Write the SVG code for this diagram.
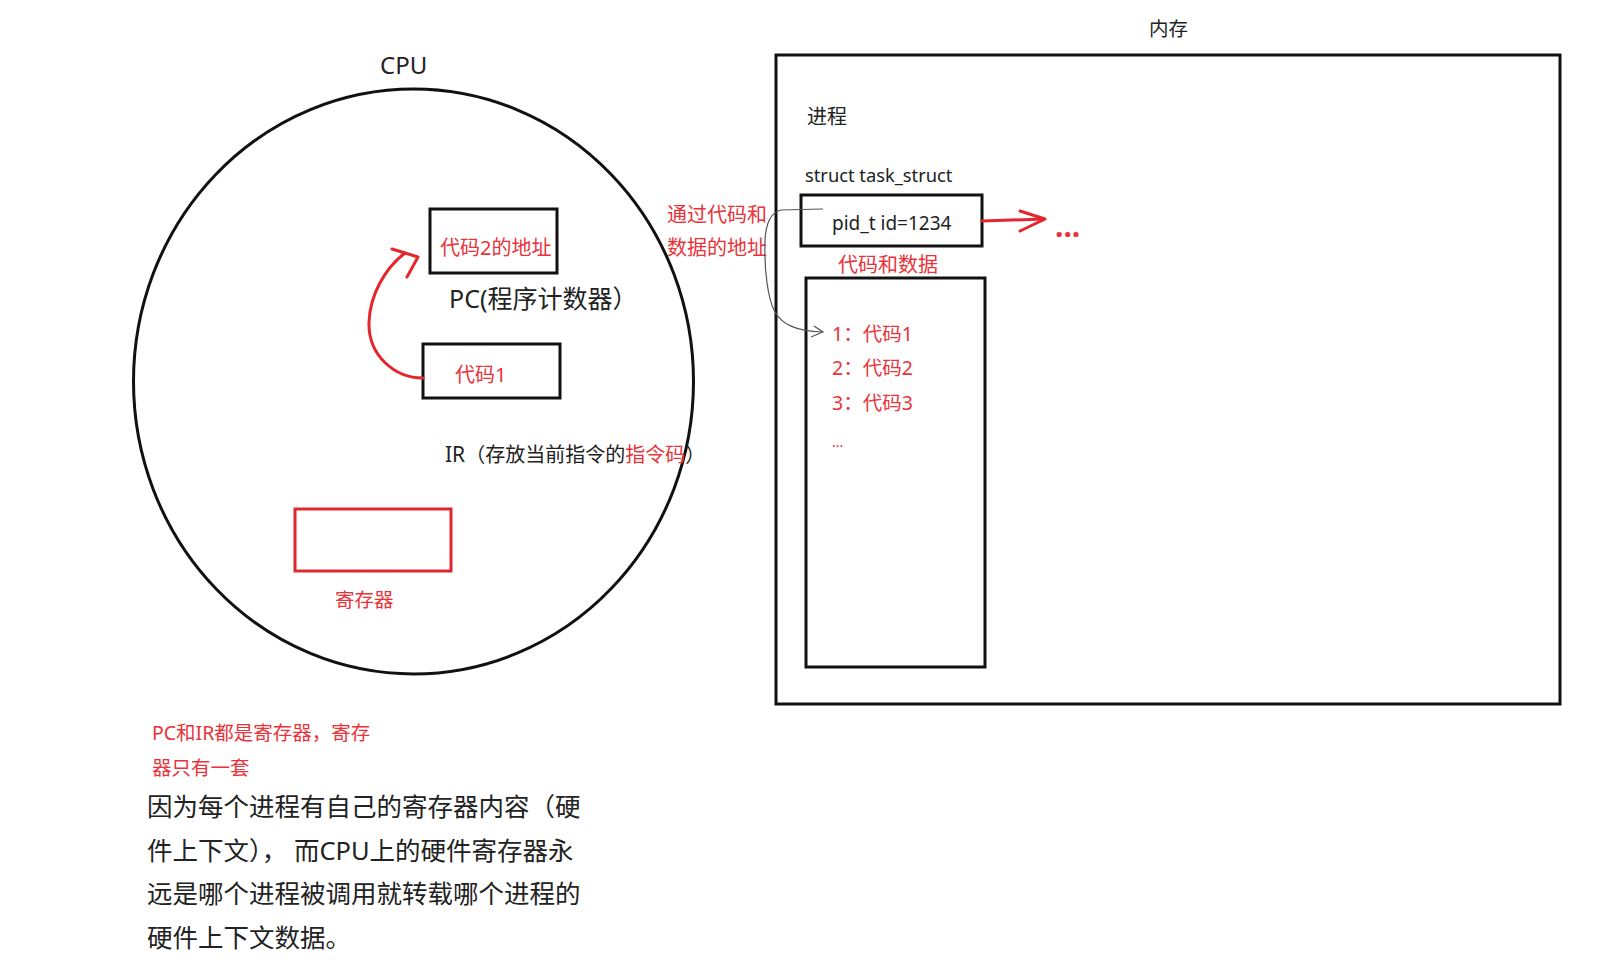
<svg xmlns="http://www.w3.org/2000/svg" width="1621" height="967" viewBox="0 0 1621 967">
<style>
text{font-family:"Noto Sans","Noto Sans CJK SC",sans-serif;fill:#222}
.r{fill:#e8333a}
.box{fill:none;stroke:#111;stroke-width:3}
.rl{fill:none;stroke:#e6262e;stroke-width:3;stroke-linecap:round;stroke-linejoin:round}
.gl{fill:none;stroke:#555;stroke-width:1.2}
</style>
<rect width="1621" height="967" fill="#fff"/>
<g id="cpu">
<ellipse cx="413.5" cy="381.5" rx="280" ry="292.5" class="box"/>
<text x="380" y="74" font-size="24">CPU</text>
</g>
<g id="pc">
<rect x="430" y="209" width="127" height="64" class="box"/>
<text x="440" y="255" font-size="20" class="r">代码2的地址</text>
<text x="449" y="308" font-size="25">PC(程序计数器）</text>
</g>
<g id="ir">
<rect x="423" y="344" width="137" height="54" class="box"/>
<text x="455" y="382" font-size="20" class="r">代码1</text>
<text x="445" y="462" font-size="21">IR<tspan font-size="20">（存放当前指令的</tspan><tspan font-size="20" class="r">指令码</tspan><tspan font-size="20">）</tspan></text>
</g>
<g id="register">
<rect x="295" y="509" width="156" height="62" fill="none" stroke="#e0282f" stroke-width="3"/>
<text x="335" y="607" font-size="19.5" class="r">寄存器</text>
</g>
<g id="note">
<text x="152" y="740" font-size="19.5" class="r">PC和IR都是寄存器，寄存</text>
<text x="152" y="775" font-size="19.5" class="r">器只有一套</text>
<text x="147" y="816" font-size="25.5">因为每个进程有自己的寄存器内容（硬</text>
<text x="147" y="860" font-size="25.5">件上下文）， 而CPU上的硬件寄存器永</text>
<text x="147" y="903" font-size="25.5">远是哪个进程被调用就转载哪个进程的</text>
<text x="147" y="947" font-size="25.5">硬件上下文数据。</text>
</g>
<g id="memory">
<rect x="776" y="55" width="784" height="649" class="box"/>
<text x="1149" y="36" font-size="19.5">内存</text>
<text x="807" y="124" font-size="20">进程</text>
<text x="805" y="182" font-size="18.3">struct task_struct</text>
</g>
<g id="task_struct">
<rect x="801" y="195" width="181" height="51" class="box"/>
<text x="832" y="230" font-size="19">pid_t id=1234</text>
</g>
<g id="code_data">
<text x="838" y="272" font-size="20" class="r">代码和数据</text>
<rect x="806" y="278" width="179" height="389" class="box"/>
<text x="832" y="341" font-size="19.5" class="r">1：代码1</text>
<text x="832" y="375" font-size="19.5" class="r">2：代码2</text>
<text x="832" y="410" font-size="19.5" class="r">3：代码3</text>
<text x="832" y="447" font-size="14" class="r">...</text>
</g>
<g id="addr_label">
<text x="667" y="222" font-size="20" class="r">通过代码和</text>
<text x="667" y="255" font-size="20" class="r">数据的地址</text>
</g>
<g id="more">
<text x="1055" y="237" font-size="30" font-weight="bold" class="r">...</text>
</g>
<g id="connectors">
<path class="rl" d="M423,378 C395,378 368,356 369,322 C370,295 385,268 405,253"/>
<path class="rl" d="M392,249 L418,257 L407,277"/>
<path class="rl" d="M982,221 L1044,219"/>
<path class="rl" d="M1020,211 L1045,219 L1020,231"/>
<path class="gl" d="M823,209 L781,210 C772,212 766,222 765,240 C764,270 768,300 775,312 C782,324 795,331 822,332"/>
<path class="gl" d="M814,326 L823,332 L811,337"/>
</g>
</svg>
